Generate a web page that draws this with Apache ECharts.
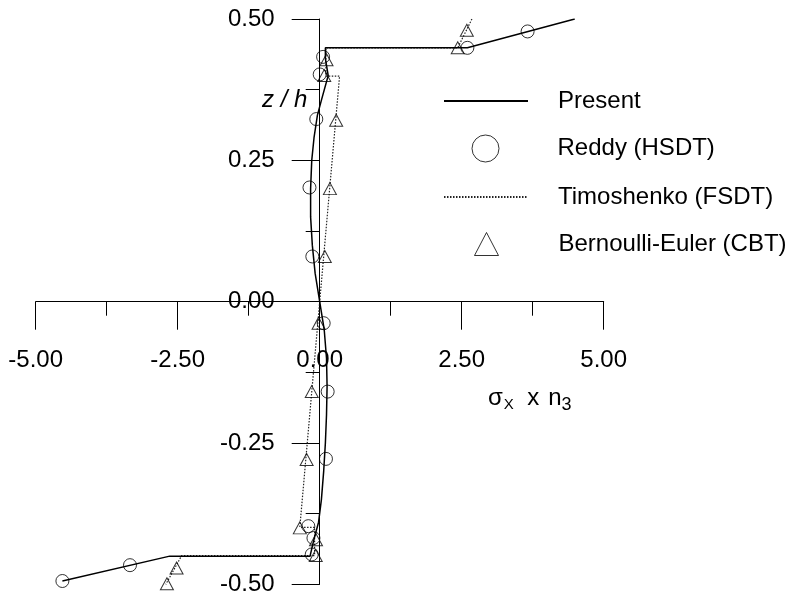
<!DOCTYPE html>
<html>
<head>
<meta charset="utf-8">
<script src="https://cdn.jsdelivr.net/npm/echarts@6/dist/echarts.min.js"></script>
<style>
  html, body { margin: 0; padding: 0; background: #fff; }
  #chart { width: 790px; height: 600px; }
</style>
</head>
<body>
<div id="chart"></div>
<script>
// values: x = sigma_x * n3, z = z / h
const presentX = [4.49, 2.60, 0.10, 0.10, 0.15, 0.04, -0.04, -0.10, -0.14, -0.16, -0.16, -0.13, -0.08, 0.00,
  0.08, 0.12, 0.13, 0.12, 0.10, 0.07, 0.03, -0.02, -0.10, -0.17, -2.64, -4.53];
const presentZ = [0.500, 0.449, 0.449, 0.430, 0.400, 0.360, 0.330, 0.290, 0.250, 0.200, 0.150, 0.100, 0.050, 0.000,
  -0.050, -0.100, -0.150, -0.200, -0.250, -0.300, -0.350, -0.390, -0.420, -0.450, -0.450, -0.494];

const reddyX = [3.66, 2.60, 0.06, 0.00, -0.06, -0.18, -0.13, 0.07, 0.14, 0.11, -0.20, -0.11, -0.14, -3.34, -4.53];
const reddyZ = [0.478, 0.449, 0.433, 0.402, 0.323, 0.202, 0.080, -0.038, -0.159, -0.278, -0.397, -0.418, -0.447, -0.466, -0.494];

const timoX = [2.68, 2.43, 0.11, 0.11, 0.35, 0.00, -0.35, -0.09, -0.09, -2.43, -2.71];
const timoZ = [0.500, 0.449, 0.449, 0.399, 0.399, 0.000, -0.399, -0.399, -0.449, -0.449, -0.500];

const bernX = [2.59, 2.43, 0.12, 0.08, 0.29, 0.18, 0.09, -0.02, -0.14, -0.23, -0.35, -0.065, -0.07, -2.52, -2.69];
const bernZ = [0.480, 0.449, 0.428, 0.400, 0.321, 0.200, 0.080, -0.038, -0.159, -0.279, -0.400, -0.421, -0.449, -0.471, -0.499];

const xTicks = { min: -5, max: 5, step: 2.5 };
const zTicks = { min: -0.5, max: 0.5, step: 0.25 };

const pairs = (xs, zs) => xs.map((x, i) => [x, zs[i]]);

const font = '"Liberation Sans", Arial, sans-serif';
const black = '#000';

// plot box, the axes cross at (0, 0) in the middle of it
const gridBox = { left: 35.7, right: 186.3, top: 19, bottom: 15.6 };
const plotW = 790 - gridBox.left - gridBox.right;
const plotH = 600 - gridBox.top - gridBox.bottom;

function legendFor(name, left, top, w, h, padLeft, extra) {
  return Object.assign({
    data: [name],
    left: left,
    top: top,
    orient: 'vertical',
    padding: 0,
    itemWidth: w,
    itemHeight: h,
    selectedMode: false,
    textStyle: { fontFamily: font, fontSize: 24, color: black, lineHeight: 24, padding: [0, 0, 0, padLeft] }
  }, extra || {});
}

const hideDot = { itemStyle: { opacity: 0 } };
const hollow = { itemStyle: { color: 'rgba(0,0,0,0)', borderColor: black, borderWidth: 1 } };

const chart = echarts.init(document.getElementById('chart'));

const option = {
  animation: false,
  backgroundColor: '#fff',
  grid: Object.assign({ outerBoundsMode: 'none', containLabel: false }, gridBox),
  title: [
    {
      text: 'z / h',
      left: 262, top: 88, padding: 0,
      textStyle: { fontFamily: font, fontSize: 24, fontStyle: 'italic', fontWeight: 'normal', color: black }
    },
    {
      text: '{m|σ}{s|X}{m|  x}{n|n}{t|3}',
      left: 488, top: 384, padding: 0,
      textStyle: {
        fontFamily: font, fontWeight: 'normal', color: black,
        rich: {
          m: { fontFamily: font, fontSize: 24, color: black, lineHeight: 28 },
          n: { fontFamily: font, fontSize: 24, color: black, lineHeight: 28, padding: [0, 0, 0, 9] },
          s: { fontFamily: font, fontSize: 15, color: black, lineHeight: 28, padding: [14, 0, 0, 1] },
          t: { fontFamily: font, fontSize: 18, color: black, lineHeight: 28, padding: [14, 0, 0, 0] }
        }
      }
    }
  ],
  legend: [
    legendFor('Present', 443, 89, 84, 14, 25, hideDot),
    legendFor('Reddy (HSDT)', 471.5, 134.5, 27, 27, 53.5, hollow),
    legendFor('Timoshenko (FSDT)', 443, 185, 84, 14, 25, hideDot),
    legendFor('Bernoulli-Euler (CBT)', 474, 232, 24, 23, 55, hollow)
  ],
  xAxis: {
    type: 'value',
    position: 'bottom',
    // move the whole axis (line, ticks, labels) up to z = 0
    offset: -plotH * (0 - zTicks.min) / (zTicks.max - zTicks.min),
    min: xTicks.min, max: xTicks.max, interval: xTicks.step,
    axisLine: { onZero: false, lineStyle: { color: black, width: 1 } },
    axisTick: { show: true, length: 28, lineStyle: { color: black, width: 1 } },
    minorTick: { show: true, splitNumber: 2, length: 14, lineStyle: { color: black, width: 1 } },
    splitLine: { show: false },
    axisLabel: {
      show: true, margin: 47, fontFamily: font, fontSize: 24, color: black,
      formatter: v => Number(v).toFixed(2)
    }
  },
  yAxis: {
    type: 'value',
    position: 'left',
    // move it right to x = 0
    offset: -plotW * (0 - xTicks.min) / (xTicks.max - xTicks.min),
    min: zTicks.min, max: zTicks.max, interval: zTicks.step,
    axisLine: { onZero: false, lineStyle: { color: black, width: 1 } },
    axisTick: { show: true, length: 28, lineStyle: { color: black, width: 1 } },
    minorTick: { show: true, splitNumber: 2, length: 14, lineStyle: { color: black, width: 1 } },
    splitLine: { show: false },
    axisLabel: {
      show: true, margin: 45, fontFamily: font, fontSize: 24, color: black,
      formatter: v => Number(v).toFixed(2)
    }
  },
  series: [
    {
      name: 'Present',
      type: 'line',
      data: pairs(presentX, presentZ),
      symbol: 'none',
      lineStyle: { color: black, width: 1.5 },
      itemStyle: { color: black },
      z: 3
    },
    {
      name: 'Timoshenko (FSDT)',
      type: 'line',
      data: pairs(timoX, timoZ),
      symbol: 'none',
      lineStyle: { color: '#222', width: 1.2, type: [1.5, 1.5] },
      itemStyle: { color: '#222' },
      z: 2
    },
    {
      name: 'Reddy (HSDT)',
      type: 'scatter',
      data: pairs(reddyX, reddyZ),
      symbol: 'circle',
      symbolSize: 13,
      itemStyle: hollow.itemStyle,
      z: 4
    },
    {
      name: 'Bernoulli-Euler (CBT)',
      type: 'scatter',
      data: pairs(bernX, bernZ),
      symbol: 'triangle',
      symbolSize: [13, 12],
      itemStyle: hollow.itemStyle,
      z: 4
    }
  ]
};

chart.setOption(option);
</script>
</body>
</html>
